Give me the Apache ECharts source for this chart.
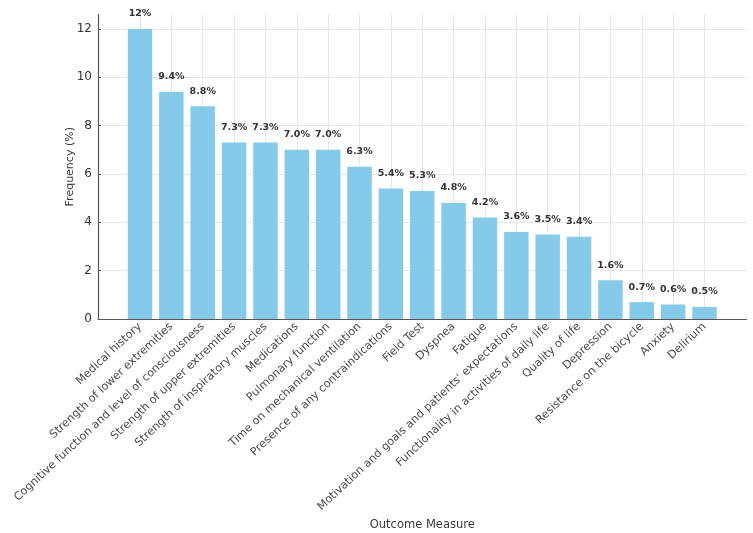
<!DOCTYPE html>
<html>
<head>
<meta charset="utf-8">
<script src="https://cdn.jsdelivr.net/npm/echarts@6/dist/echarts.min.js"></script>
<style>html,body{margin:0;padding:0;background:#fff}#c{width:753px;height:533px}</style>
</head>
<body>
<div id="c"></div>
<script>
const categories = ['Medical history','Strength of lower extremities','Cognitive function and level of consciousness','Strength of upper extremities','Strength of inspiratory muscles','Medications','Pulmonary function','Time on mechanical ventilation','Presence of any contraindications','Field Test','Dyspnea','Fatigue',"Motivation and goals and patients' expectations",'Functionality in activities of daily life','Quality of life','Depression','Resistance on the bicycle','Anxiety','Delirium'];
const values = [12, 9.4, 8.8, 7.3, 7.3, 7.0, 7.0, 6.3, 5.4, 5.3, 4.8, 4.2, 3.6, 3.5, 3.4, 1.6, 0.7, 0.6, 0.5];
const valueLabels = ['12%','9.4%','8.8%','7.3%','7.3%','7.0%','7.0%','6.3%','5.4%','5.3%','4.8%','4.2%','3.6%','3.5%','3.4%','1.6%','0.7%','0.6%','0.5%'];
const yMax = 12.6;
const yInterval = 2;

const font = 'DejaVu Sans';
const chart = echarts.init(document.getElementById('c'), null, {renderer: 'canvas'});
chart.setOption({
  animation: false,
  textStyle: {fontFamily: font},
  grid: [
    {left: 98, right: 6.5, top: 14.5, bottom: 214, containLabel: false, outerBoundsMode: 'none'},
    {left: 140, right: 48.5, top: 14.5, bottom: 214, containLabel: false, outerBoundsMode: 'none'}
  ],
  xAxis: [
    {
      gridIndex: 0, type: 'value', min: 0, max: 1,
      name: 'Outcome Measure', nameLocation: 'middle', nameGap: 200, nameMoveOverlap: false,
      nameTextStyle: {fontFamily: font, fontSize: 11.5, color: '#3a3a3a'},
      axisLine: {show: true, lineStyle: {color: '#555', width: 1.2}},
      axisTick: {show: false}, axisLabel: {show: false}, splitLine: {show: false}
    },
    {
      gridIndex: 1, type: 'category', data: categories, boundaryGap: false,
      axisLine: {show: false},
      axisTick: {show: true, inside: true, length: 3, lineStyle: {color: '#555'}},
      axisLabel: {interval: 0, rotate: 43, fontFamily: font, fontSize: 11.2, color: '#484848', margin: 6},
      splitLine: {show: true, lineStyle: {color: '#e6e6e6', width: 1}}
    }
  ],
  yAxis: [
    {
      gridIndex: 0, type: 'value', min: 0, max: yMax, interval: yInterval,
      name: 'Frequency (%)', nameLocation: 'middle', nameGap: 22, nameMoveOverlap: false,
      nameTextStyle: {fontFamily: font, fontSize: 11, color: '#3a3a3a'},
      axisLine: {show: true, lineStyle: {color: '#555', width: 1.2}},
      axisTick: {show: true, inside: true, length: 3, lineStyle: {color: '#555'}},
      axisLabel: {fontFamily: font, fontSize: 12, color: '#333', margin: 6, showMaxLabel: false},
      splitLine: {show: true, lineStyle: {color: ['#e6e6e6','#e6e6e6','#e6e6e6','#e6e6e6','#e6e6e6','#e6e6e6','#e6e6e6','rgba(0,0,0,0)'], width: 1}}
    },
    {
      gridIndex: 1, type: 'value', min: 0, max: yMax, show: false
    }
  ],
  series: [{
    type: 'bar', xAxisIndex: 1, yAxisIndex: 1,
    data: values, barWidth: '78%',
    itemStyle: {color: '#84CBEA'},
    label: {
      show: true, position: 'top', distance: 10,
      formatter: p => valueLabels[p.dataIndex],
      fontFamily: font, fontSize: 9.5, fontWeight: 'bold', color: '#333'
    }
  }]
});
</script>
</body>
</html>
